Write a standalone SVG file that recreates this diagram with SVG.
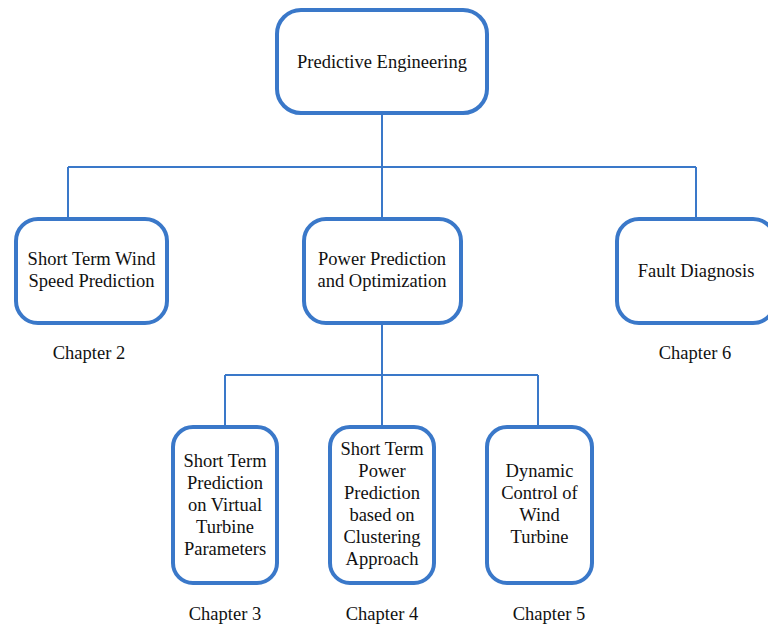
<svg xmlns="http://www.w3.org/2000/svg" width="768" height="626" viewBox="0 0 768 626">
<style>
.node{fill:#fff;stroke:#3a78c9;stroke-width:4}
.conn{fill:none;stroke:#3a78c9;stroke-width:2}
text{font-family:"Liberation Serif","Times New Roman",serif;font-size:18.5px;fill:#111;text-anchor:middle}
</style>
<rect width="768" height="626" fill="#fff"/>
<g id="connectors">
<path class="conn" d="M382 113V167M68 167H696M68 167V219M382 167V219M696 167V219"/>
<path class="conn" d="M382 324V375M225 375H538M225 375V427M382 375V427M538 375V427"/>
</g>
<g id="n-root"><rect class="node" x="277" y="10" width="210" height="103" rx="24"/><text x="382" y="68">Predictive Engineering</text></g>
<g id="n-wind"><rect class="node" x="16" y="219" width="151" height="104" rx="22"/><text x="91.5" y="265">Short Term Wind</text><text x="91.5" y="287">Speed Prediction</text></g>
<g id="n-power"><rect class="node" x="304" y="219" width="157" height="104" rx="22"/><text x="382" y="265">Power Prediction</text><text x="382" y="287">and Optimization</text></g>
<g id="n-fault"><rect class="node" x="617" y="219" width="158" height="104" rx="22"/><text x="696" y="277">Fault Diagnosis</text></g>
<g id="n-virtual"><rect class="node" x="173" y="427" width="104" height="156" rx="20"/><text x="225" y="467">Short Term</text><text x="225" y="489">Prediction</text><text x="225" y="511">on Virtual</text><text x="225" y="533">Turbine</text><text x="225" y="555">Parameters</text></g>
<g id="n-cluster"><rect class="node" x="330" y="427" width="104" height="156" rx="20"/><text x="382" y="455">Short Term</text><text x="382" y="477">Power</text><text x="382" y="499">Prediction</text><text x="382" y="521">based on</text><text x="382" y="543">Clustering</text><text x="382" y="565">Approach</text></g>
<g id="n-control"><rect class="node" x="487" y="427" width="105" height="156" rx="20"/><text x="539.5" y="477">Dynamic</text><text x="539.5" y="499">Control of</text><text x="539.5" y="521">Wind</text><text x="539.5" y="543">Turbine</text></g>
<g id="labels">
<text x="89" y="359">Chapter 2</text>
<text x="695" y="359">Chapter 6</text>
<text x="225" y="620">Chapter 3</text>
<text x="382" y="620">Chapter 4</text>
<text x="549" y="620">Chapter 5</text>
</g>
</svg>
